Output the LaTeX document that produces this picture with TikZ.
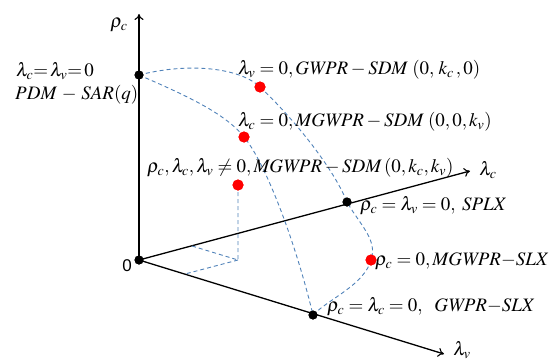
\documentclass[tikz,border=0pt]{standalone}
\usepackage{mathptmx}
\usepackage{fontspec}
\setmainfont{Liberation Serif}
\newfontfamily\arialf{Liberation Sans}
\usetikzlibrary{arrows.meta}
\definecolor{dblue}{RGB}{80,130,185}
\tikzset{
  axisline/.style={line width=1.3pt,-{To[length=6pt,width=9pt,line width=1.1pt]}},
  dashline/.style={dblue,line width=0.9pt,dash pattern=on 4pt off 3pt},
  reddot/.style={circle,fill=red,inner sep=0pt,minimum size=11pt},
  blackdot/.style={circle,fill=black,inner sep=0pt,minimum size=9pt},
  lab/.style={inner sep=0pt,anchor=west,font=\fontsize{19}{21}\selectfont},
}
\begin{document}
\begin{tikzpicture}[x=1pt,y=-1pt]
\useasboundingbox (0,0) rectangle (556,361);
% axes
\node[blackdot] (O) at (139,260) {};
\coordinate (rtip) at (139,14);
\coordinate (ctip) at (470,171);
\coordinate (vtip) at (444,354);
\draw[axisline] (O.center) -- (rtip);
\draw[axisline] (O.center) -- (ctip);
\draw[axisline] (O.center) -- (vtip);
% points
\node[blackdot] (P) at (139,75) {};
\node[blackdot] (C) at (347,202) {};
\node[blackdot] (V) at (313,315) {};
\node[reddot] (A) at (260,87) {};
\node[reddot] (B) at (244,137) {};
\node[reddot] (G) at (238,185) {};
\node[reddot] (S) at (371,260) {};
% projection
\coordinate (F) at (238,260);
\coordinate (Fc) at (192,246);
\coordinate (Fv) at (185,274);
% dashed curves
\draw[dashline] (P.center) .. controls (190,62) and (240,68) .. (A.center)
   .. controls (290,115) and (332,165) .. (C.center)
   .. controls (360,225) and (378,240) .. (S.center)
   .. controls (364,285) and (330,298) .. (V.center);
\draw[dashline] (P.center) .. controls (185,95) and (225,113) .. (B.center)
   .. controls (265,162) and (295,240) .. (V.center);
\draw[dashline] (G.center) -- (F) -- (Fc);
\draw[dashline] (F) -- (Fv);
% redraw dots on top
\node[blackdot] at (P) {};
\node[blackdot] at (C) {};
\node[blackdot] at (V) {};
\node[blackdot] at (O) {};
\node[reddot] at (A) {};
\node[reddot] at (B) {};
\node[reddot] at (G) {};
\node[reddot] at (S) {};
% labels
\node[lab,anchor=center] (lr) at (119,25) {$\rho_c$};
\node[lab,anchor=center] (lc) at (488,170) {$\lambda_c$};
\node[lab,anchor=center] (lv) at (462,350) {$\lambda_v$};
\node[inner sep=0pt,font=\arialf\fontsize{17}{19}\selectfont] (l0) at (127,266) {0};
\node[lab] (t1) at (16,71) {$\lambda_c{=}\,\lambda_v{=}\,0$};
\node[lab] (t2) at (15,95) {$\mathit{PDM}\,-\,\mathit{SAR}(q)$};
\node[lab] (t3) at (238,70) {$\lambda_v=0,\mathit{GWPR}-\mathit{SDM}\;(0,\,k_c\,,0)$};
\node[lab] (t4) at (238,122) {$\lambda_c=0,\mathit{MGWPR}-\mathit{SDM}\;(0,0,k_v)$};
\node[lab] (t5) at (147,168) {$\rho_c,\lambda_c,\lambda_v\neq0,\mathit{MGWPR}-\mathit{SDM}\,(0,k_c,k_v)$};
\node[lab] (t6) at (360,206) {$\rho_c=\lambda_v=0,\;\mathit{SPLX}$};
\node[lab] (t7) at (375,261) {$\rho_c=0,\mathit{MGWPR}{-}\mathit{SLX}$};
\node[lab] (t8) at (327,307) {$\rho_c=\lambda_c=0,\enskip\mathit{GWPR}{-}\mathit{SLX}$};
\end{tikzpicture}
\end{document}
